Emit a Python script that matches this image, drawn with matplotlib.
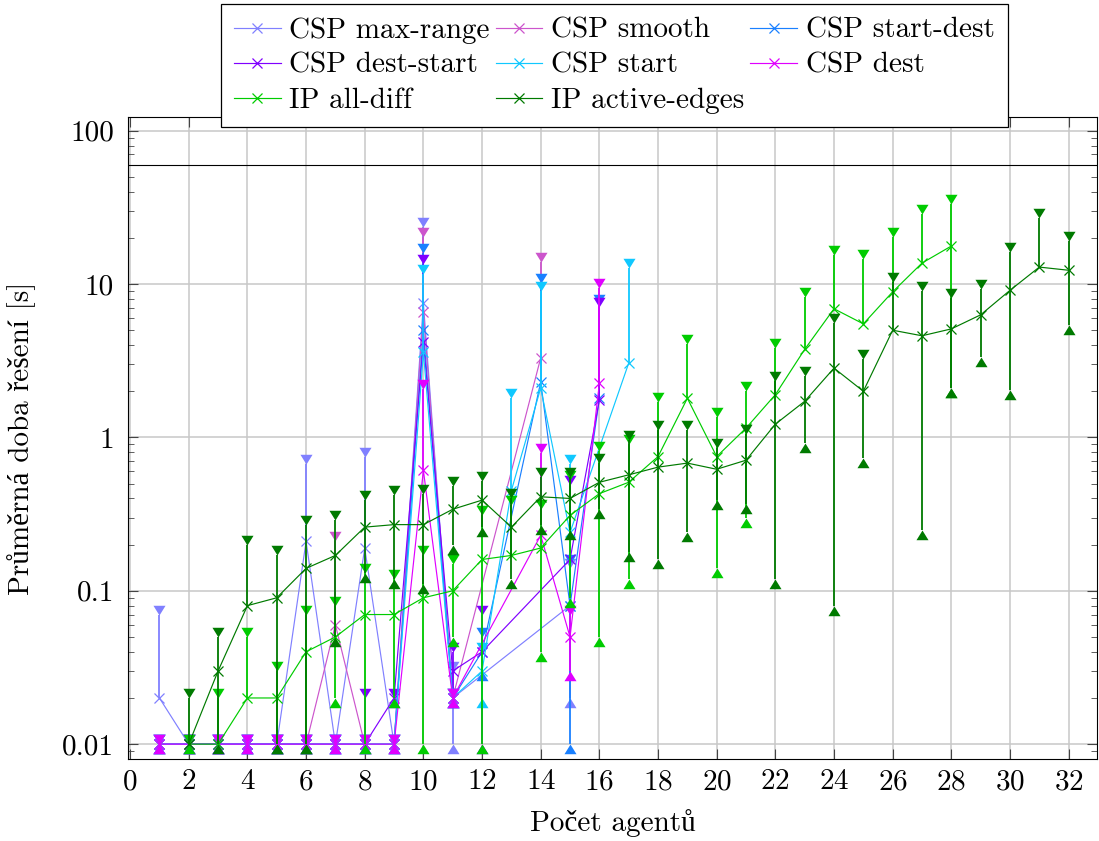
import matplotlib
matplotlib.use("Agg")
import matplotlib.pyplot as plt
from matplotlib.ticker import LogLocator, NullFormatter
import numpy as np

plt.rcParams['font.family'] = ['cmr10', 'Liberation Serif', 'DejaVu Serif']
plt.rcParams['axes.formatter.use_mathtext'] = True
plt.rcParams['font.size'] = 21

# mean solve time [s] and its standard deviation, per number of agents
max_range_x = [1, 2, 3, 4, 5, 6, 7, 8, 9, 10, 11, 15]
max_range_mean = [0.02, 0.01, 0.01, 0.01, 0.01, 0.21, 0.01, 0.19, 0.01, 7.5, 0.02, 0.08]
max_range_std = [0.05, 0, 0, 0, 0, 0.46, 0, 0.56, 0, 16.1, 0.01, 0.06]

smooth_x = [1, 2, 3, 4, 5, 6, 7, 8, 9, 10, 11, 14]
smooth_mean = [0.01, 0.01, 0.01, 0.01, 0.01, 0.01, 0.06, 0.01, 0.01, 6.6, 0.02, 3.3]
smooth_std = [0, 0, 0, 0, 0, 0, 0.15, 0, 0, 13.7, 0, 10.6]

start_dest_x = [1, 2, 3, 4, 5, 6, 7, 8, 9, 10, 11, 12, 14, 15, 16]
start_dest_mean = [0.01, 0.01, 0.01, 0.01, 0.01, 0.01, 0.01, 0.01, 0.01, 5.0, 0.02, 0.04, 2.3, 0.08, 1.8]
start_dest_std = [0, 0, 0, 0, 0, 0, 0, 0, 0, 11.0, 0, 0.01, 7.9, 0.07, 5.6]

dest_start_x = [1, 2, 3, 4, 5, 6, 7, 8, 9, 10, 11, 12, 15, 16]
dest_start_mean = [0.01, 0.01, 0.01, 0.01, 0.01, 0.01, 0.01, 0.01, 0.02, 4.2, 0.03, 0.04, 0.16, 1.75]
dest_start_std = [0, 0, 0, 0, 0, 0, 0, 0.01, 0, 9.3, 0.01, 0.03, 0.33, 5.35]

start_x = [1, 2, 3, 4, 5, 6, 7, 8, 9, 10, 11, 12, 13, 14, 15, 17]
start_mean = [0.01, 0.01, 0.01, 0.01, 0.01, 0.01, 0.01, 0.01, 0.01, 3.6, 0.02, 0.03, 0.45, 2.1, 0.24, 3.05]
start_std = [0, 0, 0, 0, 0, 0, 0, 0, 0, 8.0, 0, 0.01, 1.35, 6.9, 0.43, 9.7]

dest_x = [1, 2, 3, 4, 5, 6, 7, 8, 9, 10, 11, 14, 15, 16]
dest_mean = [0.01, 0.01, 0.01, 0.01, 0.01, 0.01, 0.01, 0.01, 0.01, 0.61, 0.02, 0.23, 0.05, 2.25]
dest_std = [0, 0, 0, 0, 0, 0, 0, 0, 0, 1.45, 0, 0.56, 0.02, 7.15]

all_diff_x = list(range(2, 29))
all_diff_mean = [0.01, 0.01, 0.02, 0.02, 0.04, 0.05, 0.07, 0.07, 0.09, 0.10, 0.16, 0.17, 0.19, 0.31,
                 0.43, 0.51, 0.75, 1.8, 0.75, 1.15, 1.9, 3.75, 6.9, 5.5, 8.9, 13.7, 17.7]
all_diff_std = [0, 0.01, 0.03, 0.01, 0.03, 0.03, 0.06, 0.05, 0.08, 0.05, 0.15, 0.19, 0.15, 0.22,
                0.38, 0.39, 0.94, 2.25, 0.61, 0.85, 1.95, 4.5, 8.5, 9.0, 11.5, 14.8, 15.6]

active_x = list(range(2, 33))
active_mean = [0.01, 0.03, 0.08, 0.09, 0.14, 0.17, 0.26, 0.27, 0.27, 0.34, 0.39, 0.26, 0.41, 0.40, 0.51,
               0.57, 0.64, 0.68, 0.62, 0.71, 1.22, 1.72, 2.83, 2.0, 5.0, 4.6, 5.1, 6.3, 9.1, 12.9, 12.3]
active_std = [0.01, 0.02, 0.12, 0.08, 0.13, 0.12, 0.13, 0.15, 0.16, 0.14, 0.13, 0.14, 0.14, 0.15, 0.17,
              0.39, 0.48, 0.44, 0.23, 0.34, 1.1, 0.8, 2.75, 1.27, 5.3, 4.35, 3.0, 2.95, 7.05, 14.1, 6.9]

timeout = 60

series = [
    ("CSP max-range", max_range_x, max_range_mean, max_range_std, "#8080ff"),
    ("CSP smooth", smooth_x, smooth_mean, smooth_std, "#cc55cc"),
    ("CSP start-dest", start_dest_x, start_dest_mean, start_dest_std, "#1a80ff"),
    ("CSP dest-start", dest_start_x, dest_start_mean, dest_start_std, "#8000ff"),
    ("CSP start", start_x, start_mean, start_std, "#10c8ff"),
    ("CSP dest", dest_x, dest_mean, dest_std, "#e000ff"),
    ("IP all-diff", all_diff_x, all_diff_mean, all_diff_std, "#00cc00"),
    ("IP active-edges", active_x, active_mean, active_std, "#007a00"),
]

fig = plt.figure(figsize=(10.99, 8.41), dpi=100)
ax = fig.add_axes([0.1165, 0.0975, 0.8815, 0.7635])

# error bar ends: triangles with the tip on the end of the bar
tri_down = [(0, 0), (-0.62, 1), (0.62, 1), (0, 0)]
tri_up = [(0, 0), (-0.62, -1), (0.62, -1), (0, 0)]

lines = {}
z = 3
for name, xs, mean, std, col in series:
    xs = np.array(xs, dtype=float)
    mean = np.array(mean)
    std = np.array(std)
    upper = mean + std
    lower = mean - std
    ok = lower > 1e-6
    ax.vlines(xs, mean, upper, color=col, lw=1.3, zorder=z)
    ax.vlines(xs[ok], lower[ok], mean[ok], color=col, lw=1.3, zorder=z)
    ax.plot(xs, upper, ls='none', marker=tri_down, ms=14, color=col, mew=0, zorder=z)
    ax.plot(xs[ok], lower[ok], ls='none', marker=tri_up, ms=14, color=col, mew=0, zorder=z)
    ln, = ax.plot(xs, mean, color=col, lw=0.85, marker='x', ms=7, mew=0.9, label=name, zorder=z + 0.5)
    lines[name] = ln
    z += 1

ax.axhline(timeout, color='black', lw=0.8, zorder=2)

ax.set_yscale('log')
ax.set_ylim(0.008, 123)
ax.set_xlim(-0.07, 32.96)
ax.set_xticks(range(0, 33, 2))
ax.set_yticks([0.01, 0.1, 1, 10, 100])
ax.set_yticklabels(['0.01', '0.1', '1', '10', '100'])
ax.yaxis.set_minor_locator(LogLocator(base=10, subs=np.arange(2, 10)))
ax.yaxis.set_minor_formatter(NullFormatter())
ax.tick_params(which='both', direction='in', top=True, right=True, color='#444444')
ax.tick_params(which='major', length=7, width=0.8)
ax.tick_params(which='minor', length=4.5, width=0.6)
ax.tick_params(axis='y', pad=10)
ax.tick_params(axis='x', pad=7)
ax.grid(True, which='major', color='#c8c8c8', lw=1.1)
ax.set_axisbelow(True)

ax.set_xlabel("Počet agentů")
ax.set_ylabel("Průměrná doba řešení [s]")
ax.yaxis.set_label_coords(-0.095, 0.5)
ax.xaxis.set_label_coords(0.5, -0.078)

order = ["CSP max-range", "CSP dest-start", "IP all-diff",
         "CSP smooth", "CSP start", "IP active-edges",
         "CSP start-dest", "CSP dest"]
leg = fig.legend([lines[n] for n in order], order, loc='upper center',
                 bbox_to_anchor=(0.559, 0.995), ncol=3, fancybox=False,
                 edgecolor='black', framealpha=1, handlelength=1.6,
                 handletextpad=0.3, columnspacing=0.2, borderpad=0.45,
                 labelspacing=0.3, borderaxespad=0)
leg.get_frame().set_linewidth(0.9)

fig.savefig("out.png", dpi=100)
